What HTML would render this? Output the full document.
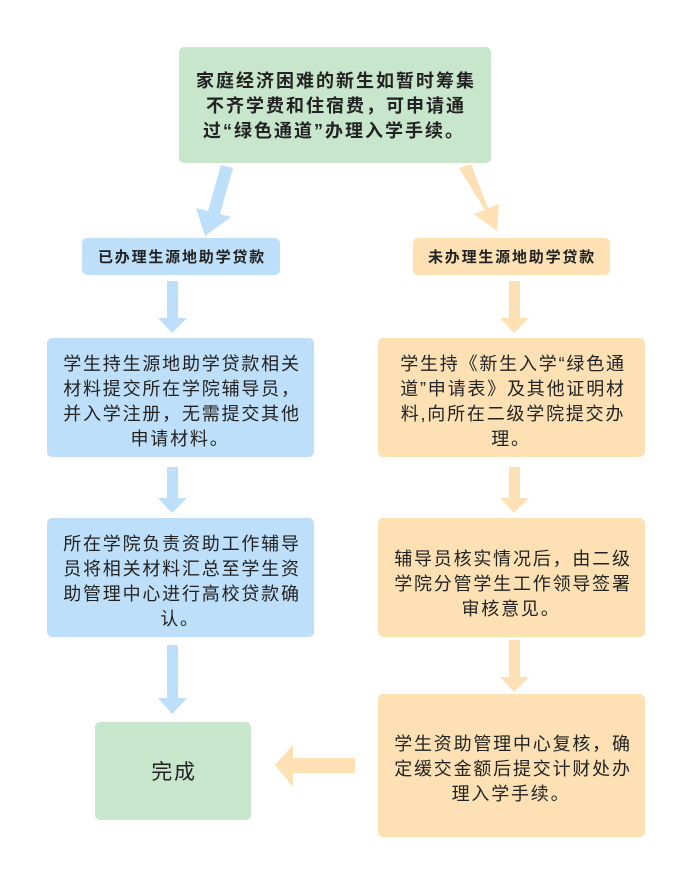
<!DOCTYPE html>
<html><head><meta charset="utf-8"><style>
body{margin:0;background:#fff;}
svg text{font-family:"Liberation Sans","Noto Sans CJK SC",sans-serif;fill:#222;}
</style></head><body>
<svg width="677" height="869" viewBox="0 0 677 869" xmlns="http://www.w3.org/2000/svg">
<rect x="179" y="47" width="312" height="116" rx="5" fill="#c8e6cb"/>
<rect x="82" y="238" width="198" height="37" rx="5" fill="#bddff9"/>
<rect x="413" y="238" width="197" height="37" rx="5" fill="#fde1b4"/>
<rect x="47" y="338" width="267" height="119" rx="5" fill="#bddff9"/>
<rect x="47" y="518" width="267" height="119" rx="5" fill="#bddff9"/>
<rect x="95" y="722" width="156" height="98" rx="5" fill="#c8e6cb"/>
<rect x="378" y="338" width="267" height="119" rx="5" fill="#fde1b4"/>
<rect x="378" y="518" width="267" height="119" rx="5" fill="#fde1b4"/>
<rect x="378" y="694" width="267" height="143" rx="5" fill="#fde1b4"/>
<g fill="#bddff9">
<polygon points="221,165 233,168 220,214 231,217 205,236 196,208 208,211"/>
<polygon points="167,281 178,281 178,318 187,318 172,333 158,318 167,318"/>
<polygon points="167,467 178,467 178,498 187,498 172,513 158,498 167,498"/>
<polygon points="167,645 178,645 178,698 187,698 172,714 158,698 167,698"/>
</g>
<g fill="#fde1b4">
<polygon points="459,168 471,164 488,208 499,204 497,231 474,214 485,210"/>
<polygon points="509,281 520,281 520,318 529,318 514,333 500,318 509,318"/>
<polygon points="509,467 520,467 520,498 529,498 514,513 500,498 509,498"/>
<polygon points="509,640 520,640 520,677 529,677 514,692 500,677 509,677"/>
<polygon points="355,758 355,773 293,773 293,787 275,765 293,745 293,758"/>
</g>
<g font-size="18" font-weight="bold" text-anchor="middle" fill="#333" letter-spacing="2">
<text x="336" y="87">家庭经济困难的新生如暂时筹集</text>
<text x="336" y="112">不齐学费和住宿费，可申请通</text>
<text x="334" y="137">过“绿色通道”办理入学手续。</text>
</g>
<g font-size="15" font-weight="bold" text-anchor="middle" letter-spacing="1.8">
<text x="182" y="262">已办理生源地助学贷款</text>
<text x="512" y="262">未办理生源地助学贷款</text>
</g>
<g font-size="18" text-anchor="middle" letter-spacing="1.8">
<text x="182" y="370">学生持生源地助学贷款相关</text>
<text x="182" y="395">材料提交所在学院辅导员，</text>
<text x="182" y="420">并入学注册，无需提交其他</text>
<text x="180" y="445">申请材料。</text>
<text x="182" y="550">所在学院负责资助工作辅导</text>
<text x="182" y="575">员将相关材料汇总至学生资</text>
<text x="182" y="600">助管理中心进行高校贷款确</text>
<text x="180" y="625">认。</text>
<text x="513" y="370">学生持《新生入学“绿色通</text>
<text x="513" y="395">道”申请表》及其他证明材</text>
<text x="513" y="420">料,向所在二级学院提交办</text>
<text x="511" y="445">理。</text>
<text x="513" y="565">辅导员核实情况后，由二级</text>
<text x="513" y="590">学院分管学生工作领导签署</text>
<text x="511" y="615">审核意见。</text>
<text x="513" y="750">学生资助管理中心复核，确</text>
<text x="513" y="775">定缓交金额后提交计财处办</text>
<text x="511" y="800">理入学手续。</text>
<text x="174" y="779" font-size="21">完成</text>
</g>
</svg>
</body></html>
